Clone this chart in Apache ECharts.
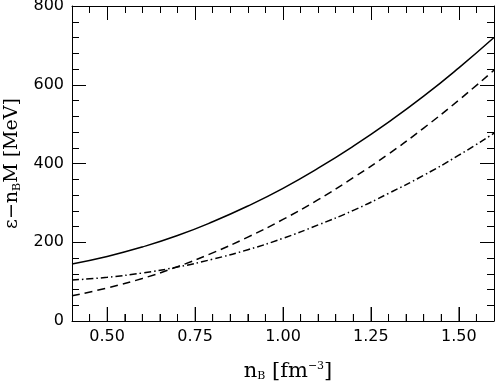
<!DOCTYPE html>
<html>
<head>
<meta charset="utf-8">
<script src="https://cdn.jsdelivr.net/npm/echarts@6/dist/echarts.min.js"></script>
<style>
  html, body { margin: 0; padding: 0; background: #fff; }
  #chart { width: 496px; height: 381px; }
</style>
</head>
<body>
<div id="chart"></div>
<script>
// baryon density n_B [fm^-3]
const nB = [0.4, 0.5, 0.6, 0.7, 0.8, 0.9, 1.0, 1.1, 1.2, 1.3, 1.4, 1.5, 1.6];
// energy density minus rest mass [MeV]
const solidVals   = [145, 164, 188, 217, 252, 292, 337, 388, 444, 505, 571, 643, 720];
const dashedVals  = [64, 84, 108, 138, 173, 213, 258, 308, 364, 424, 490, 561, 637];
const dashDotVals = [104, 111, 122, 137, 157, 181, 210, 244, 281, 324, 370, 421, 477];

const xMajorTicks = [0.5, 0.75, 1.0, 1.25, 1.5];
const xMinorTicks = [0.45, 0.55, 0.6, 0.65, 0.7, 0.8, 0.85, 0.9, 0.95,
                     1.05, 1.1, 1.15, 1.2, 1.3, 1.35, 1.4, 1.45, 1.55];

const pairs = (ys) => nB.map((x, i) => [x, ys[i]]);

const chart = echarts.init(document.getElementById('chart'));
const labelFont = { color: '#000', fontFamily: 'DejaVu Sans', fontSize: 16 };
const plotBox = { left: 72, right: 2, top: 6, bottom: 60, outerBoundsMode: 'none' };
const line = () => ({ color: '#000', width: 1 });

// x axis with ticks only; minor ones every 0.05 from min 0.4
function xTickAxis(grid, pos, major, withLine) {
  const tick = { show: true, inside: true, length: major ? 14 : 7, lineStyle: line() };
  if (major) tick.customValues = xMajorTicks;
  return {
    type: 'value', gridIndex: grid, position: pos, min: 0.4, max: 1.6, z: 10,
    interval: major ? undefined : 0.05,
    axisLine: { show: withLine, onZero: false, lineStyle: line() },
    axisTick: tick,
    axisLabel: { show: false },
    splitLine: { show: false }
  };
}

function yAxisDef(pos, withLabels) {
  return {
    type: 'value', gridIndex: 0, position: pos, min: 0, max: 800, interval: 200,
    axisLine: { show: true, onZero: false, lineStyle: line() },
    axisTick: { show: true, inside: true, length: 14, lineStyle: line() },
    minorTick: { show: true, splitNumber: 5, length: 7, lineStyle: line() },
    axisLabel: withLabels ? Object.assign({ show: true, margin: 8 }, labelFont) : { show: false },
    splitLine: { show: false },
    minorSplitLine: { show: false }
  };
}

// bottom frame ticks as thin marks standing on y = 0
function bottomTicks(values, len) {
  return {
    type: 'scatter', silent: true, z: 10, clip: false,
    data: values.map((x) => [x, 0]),
    symbol: 'rect', symbolSize: [1, len], symbolOffset: [0, -len / 2],
    itemStyle: { color: '#000' }
  };
}

const option = {
  animation: false,
  title: {
    text: 'n{sub|B} [fm{sup|−3}]',
    left: 283, top: 356, textAlign: 'center',
    textStyle: {
      color: '#000', fontFamily: 'DejaVu Serif', fontSize: 21, fontWeight: 'normal',
      rich: {
        sub: { color: '#000', fontFamily: 'DejaVu Serif', fontSize: 11, verticalAlign: 'bottom', padding: [9, 0, 0, 0] },
        sup: { color: '#000', fontFamily: 'DejaVu Serif', fontSize: 11, verticalAlign: 'top', padding: [0, 0, 9, 0] }
      }
    }
  },
  grid: [plotBox, plotBox],
  xAxis: [
    Object.assign(xTickAxis(0, 'bottom', true, true), {
      axisLabel: Object.assign({ show: true, margin: 8, customValues: xMajorTicks,
                                 formatter: (v) => v.toFixed(2) }, labelFont)
    }),
    xTickAxis(0, 'top', true, true),
    xTickAxis(1, 'bottom', false, false),
    xTickAxis(1, 'top', false, false)
  ],
  yAxis: [
    Object.assign(yAxisDef('left', true), {
      name: 'ε−n{sub|B}M [MeV]',
      nameLocation: 'middle',
      nameRotate: 90,
      nameGap: 48,
      nameTextStyle: {
        color: '#000', fontFamily: 'DejaVu Serif', fontSize: 19,
        rich: {
          sub: { fontFamily: 'DejaVu Serif', fontSize: 11, verticalAlign: 'bottom', padding: [9, 0, 0, 0] }
        }
      }
    }),
    yAxisDef('right', false),
    { type: 'value', gridIndex: 1, min: 0, max: 800, show: false }
  ],
  series: [
    {
      name: 'solid', type: 'line', data: pairs(solidVals), smooth: true, showSymbol: false,
      lineStyle: { color: '#000', width: 1.5, type: 'solid' }
    },
    {
      name: 'dashed', type: 'line', data: pairs(dashedVals), smooth: true, showSymbol: false,
      lineStyle: { color: '#000', width: 1.5, type: [8, 5] }
    },
    {
      name: 'dashdot', type: 'line', data: pairs(dashDotVals), smooth: true, showSymbol: false,
      lineStyle: { color: '#000', width: 1.5, type: [7, 3, 1.5, 3] }
    },
    bottomTicks(xMajorTicks, 14),
    bottomTicks(xMinorTicks, 7)
  ]
};
chart.setOption(option);
</script>
</body>
</html>
